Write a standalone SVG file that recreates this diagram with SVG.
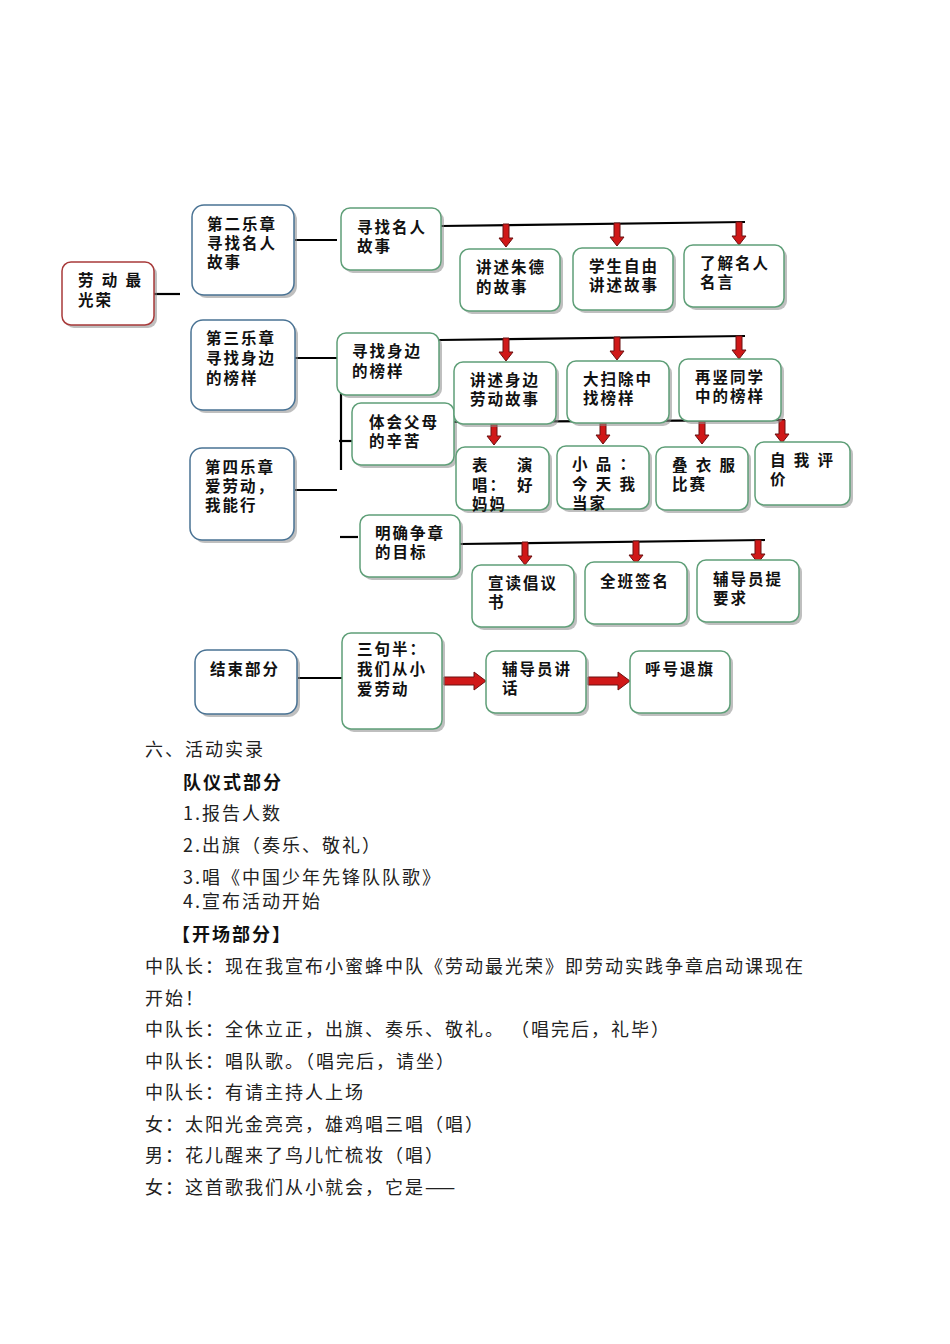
<svg xmlns="http://www.w3.org/2000/svg" xmlns:xlink="http://www.w3.org/1999/xlink" width="950" height="1344" viewBox="0 0 950 1344">
<style>
.b{fill:#fff;stroke-width:1.5}
.r{stroke:#a83a3a}.u{stroke:#4a7394}.g{stroke:#5f9f78}
.sh{fill:#8a8a8a;opacity:.55}
.t{font-family:"Liberation Sans","Noto Sans CJK SC",sans-serif;font-size:15.5px;font-weight:bold;fill:#111;letter-spacing:2px}
.p{font-family:"Noto Sans CJK SC",sans-serif;font-size:18px;fill:#222;letter-spacing:2px}
.pb{font-family:"Noto Sans CJK SC",sans-serif;font-size:18px;font-weight:bold;fill:#111;letter-spacing:2px}
.c line{stroke:#000;stroke-width:2.2;fill:none}
.ar{fill:#d01818;stroke:#6a1010;stroke-width:1}
</style>
<defs>
<path id="da" class="ar" d="M-3,0 h6 v14 h4 l-7,9 l-7,-9 h4 z"/>
<path id="ra" class="ar" d="M0,-4 h30 v-5 l12,9 l-12,9 v-5 h-30 z"/>
</defs>
<g class="c" id="connectors">
<line x1="153" y1="294" x2="180" y2="294"/>
<line x1="295" y1="240" x2="337" y2="240"/>
<line x1="441" y1="226" x2="745" y2="222"/>
<line x1="295" y1="358" x2="337" y2="358"/>
<line x1="439" y1="340" x2="745" y2="336"/>
<line x1="341" y1="372" x2="341" y2="470"/>
<line x1="339" y1="441" x2="355" y2="441"/>
<line x1="454" y1="422" x2="785" y2="420"/>
<line x1="295" y1="490" x2="337" y2="490"/>
<line x1="340" y1="537" x2="358" y2="537"/>
<line x1="460" y1="544" x2="765" y2="540"/>
<line x1="298" y1="678" x2="342" y2="678"/>
<use href="#da" x="506" y="224"/><use href="#da" x="617" y="223"/><use href="#da" x="739" y="222"/>
<use href="#da" x="506" y="338"/><use href="#da" x="617" y="337"/><use href="#da" x="739" y="336"/>
<use href="#da" x="494" y="422"/><use href="#da" x="603" y="421"/><use href="#da" x="702" y="421"/><use href="#da" x="782" y="420"/>
<use href="#da" x="525" y="542"/><use href="#da" x="636" y="541"/><use href="#da" x="758" y="540"/>
<use href="#ra" x="444" y="681"/><use href="#ra" x="588" y="681"/>
</g>
<g id="n1"><rect class="sh" x="65" y="265" width="92" height="63" rx="9"/><rect class="b r" x="62" y="262" width="92" height="63" rx="9"/><text class="t" x="78" y="286">劳 动 最</text><text class="t" x="78" y="306">光荣</text></g>
<g id="n2"><rect class="sh" x="195" y="208" width="102" height="90" rx="12"/><rect class="b u" x="192" y="205" width="102" height="90" rx="12"/><text class="t" x="207" y="230">第二乐章</text><text class="t" x="207" y="249">寻找名人</text><text class="t" x="207" y="268">故事</text></g>
<g id="n3"><rect class="sh" x="344" y="211" width="100" height="62" rx="9"/><rect class="b g" x="341" y="208" width="100" height="62" rx="9"/><text class="t" x="357" y="233">寻找名人</text><text class="t" x="357" y="252">故事</text></g>
<g id="n4"><rect class="sh" x="463" y="252" width="100" height="62" rx="9"/><rect class="b g" x="460" y="249" width="100" height="62" rx="9"/><text class="t" x="476" y="273">讲述朱德</text><text class="t" x="476" y="293">的故事</text></g>
<g id="n5"><rect class="sh" x="576" y="251" width="100" height="62" rx="9"/><rect class="b g" x="573" y="248" width="100" height="62" rx="9"/><text class="t" x="589" y="272">学生自由</text><text class="t" x="589" y="291">讲述故事</text></g>
<g id="n6"><rect class="sh" x="687" y="248" width="100" height="62" rx="9"/><rect class="b g" x="684" y="245" width="100" height="62" rx="9"/><text class="t" x="700" y="269">了解名人</text><text class="t" x="700" y="288">名言</text></g>
<g id="n7"><rect class="sh" x="194" y="323" width="104" height="90" rx="12"/><rect class="b u" x="191" y="320" width="104" height="90" rx="12"/><text class="t" x="206" y="344">第三乐章</text><text class="t" x="206" y="364">寻找身边</text><text class="t" x="206" y="384">的榜样</text></g>
<g id="n8"><rect class="sh" x="340" y="336" width="102" height="62" rx="9"/><rect class="b g" x="337" y="333" width="102" height="62" rx="9"/><text class="t" x="352" y="357">寻找身边</text><text class="t" x="352" y="377">的榜样</text></g>
<g id="n9"><rect class="sh" x="355" y="406" width="102" height="62" rx="9"/><rect class="b g" x="352" y="403" width="102" height="62" rx="9"/><text class="t" x="369" y="428">体会父母</text><text class="t" x="369" y="447">的辛苦</text></g>
<g id="n10"><rect class="sh" x="457" y="365" width="102" height="62" rx="9"/><rect class="b g" x="454" y="362" width="102" height="62" rx="9"/><text class="t" x="470" y="386">讲述身边</text><text class="t" x="470" y="405">劳动故事</text></g>
<g id="n11"><rect class="sh" x="570" y="364" width="102" height="62" rx="9"/><rect class="b g" x="567" y="361" width="102" height="62" rx="9"/><text class="t" x="583" y="385">大扫除中</text><text class="t" x="583" y="404">找榜样</text></g>
<g id="n12"><rect class="sh" x="682" y="362" width="102" height="62" rx="9"/><rect class="b g" x="679" y="359" width="102" height="62" rx="9"/><text class="t" x="695" y="383">再竖同学</text><text class="t" x="695" y="402">中的榜样</text></g>
<g id="n13"><rect class="sh" x="459" y="450" width="93" height="63" rx="9"/><rect class="b g" x="456" y="447" width="93" height="63" rx="9"/><text class="t" x="472" y="471">表<tspan x="517">演</tspan></text><text class="t" x="472" y="491">唱：<tspan x="517">好</tspan></text><text class="t" x="472" y="510">妈妈</text></g>
<g id="n14"><rect class="sh" x="560" y="449" width="92" height="63" rx="9"/><rect class="b g" x="557" y="446" width="92" height="63" rx="9"/><text class="t" x="572" y="470">小 品 ：</text><text class="t" x="572" y="490">今 天 我</text><text class="t" x="572" y="509">当家</text></g>
<g id="n15"><rect class="sh" x="659" y="450" width="92" height="63" rx="9"/><rect class="b g" x="656" y="447" width="92" height="63" rx="9"/><text class="t" x="672" y="471">叠 衣 服</text><text class="t" x="672" y="490">比赛</text></g>
<g id="n16"><rect class="sh" x="758" y="445" width="95" height="63" rx="9"/><rect class="b g" x="755" y="442" width="95" height="63" rx="9"/><text class="t" x="770" y="466">自 我 评</text><text class="t" x="770" y="485">价</text></g>
<g id="n17"><rect class="sh" x="193" y="451" width="104" height="92" rx="12"/><rect class="b u" x="190" y="448" width="104" height="92" rx="12"/><text class="t" x="205" y="473">第四乐章</text><text class="t" x="205" y="492">爱劳动，</text><text class="t" x="205" y="511">我能行</text></g>
<g id="n18"><rect class="sh" x="363" y="518" width="100" height="62" rx="9"/><rect class="b g" x="360" y="515" width="100" height="62" rx="9"/><text class="t" x="375" y="539">明确争章</text><text class="t" x="375" y="558">的目标</text></g>
<g id="n19"><rect class="sh" x="475" y="568" width="102" height="62" rx="9"/><rect class="b g" x="472" y="565" width="102" height="62" rx="9"/><text class="t" x="488" y="589">宣读倡议</text><text class="t" x="488" y="608">书</text></g>
<g id="n20"><rect class="sh" x="588" y="565" width="102" height="62" rx="9"/><rect class="b g" x="585" y="562" width="102" height="62" rx="9"/><text class="t" x="600" y="587">全班签名</text></g>
<g id="n21"><rect class="sh" x="700" y="563" width="102" height="62" rx="9"/><rect class="b g" x="697" y="560" width="102" height="62" rx="9"/><text class="t" x="713" y="585">辅导员提</text><text class="t" x="713" y="604">要求</text></g>
<g id="n22"><rect class="sh" x="198" y="653" width="102" height="64" rx="12"/><rect class="b u" x="195" y="650" width="102" height="64" rx="12"/><text class="t" x="210" y="675">结束部分</text></g>
<g id="n23"><rect class="sh" x="345" y="636" width="100" height="96" rx="9"/><rect class="b g" x="342" y="633" width="100" height="96" rx="9"/><text class="t" x="357" y="655">三句半：</text><text class="t" x="357" y="675">我们从小</text><text class="t" x="357" y="695">爱劳动</text></g>
<g id="n24"><rect class="sh" x="489" y="654" width="100" height="62" rx="9"/><rect class="b g" x="486" y="651" width="100" height="62" rx="9"/><text class="t" x="502" y="675">辅导员讲</text><text class="t" x="502" y="694">话</text></g>
<g id="n25"><rect class="sh" x="633" y="654" width="100" height="62" rx="9"/><rect class="b g" x="630" y="651" width="100" height="62" rx="9"/><text class="t" x="645" y="675">呼号退旗</text></g>
<g id="body">
<text class="p" x="145" y="756">六、活动实录</text>
<text class="pb" x="183" y="789">队仪式部分</text>
<text class="p" x="183" y="820">1.报告人数</text>
<text class="p" x="183" y="852">2.出旗（奏乐、敬礼）</text>
<text class="p" x="183" y="884">3.唱《中国少年先锋队队歌》</text>
<text class="p" x="183" y="908">4.宣布活动开始</text>
<text class="pb" x="172" y="941">【开场部分】</text>
<text class="p" x="145" y="973">中队长：现在我宣布小蜜蜂中队《劳动最光荣》即劳动实践争章启动课现在</text>
<text class="p" x="145" y="1005">开始！</text>
<text class="p" x="145" y="1036">中队长：全休立正，出旗、奏乐、敬礼。 （唱完后，礼毕）</text>
<text class="p" x="145" y="1068">中队长：唱队歌。（唱完后，请坐）</text>
<text class="p" x="145" y="1099">中队长：有请主持人上场</text>
<text class="p" x="145" y="1131">女：太阳光金亮亮，雄鸡唱三唱（唱）</text>
<text class="p" x="145" y="1162">男：花儿醒来了鸟儿忙梳妆（唱）</text>
<text class="p" x="145" y="1194">女：这首歌我们从小就会，它是——</text>
</g>
</svg>
